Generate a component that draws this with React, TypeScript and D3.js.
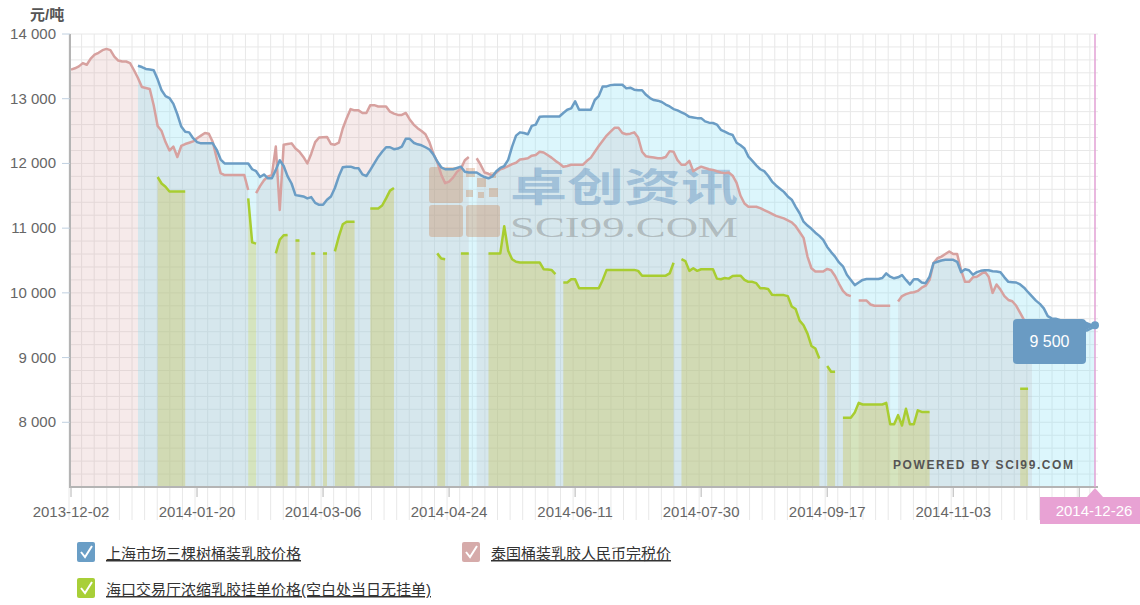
import React, { useEffect, useRef } from "react";
import * as d3 from "d3";

const _ = null;

// x axis labels, one every 32 trading days
const tickLabels = ["2013-12-02", "2014-01-20", "2014-03-06", "2014-04-24", "2014-06-11", "2014-07-30", "2014-09-17", "2014-11-03", "2014-12-22"];
const tickEvery = 32;
const lastDate = "2014-12-26";
const yTicks = [8000, 9000, 10000, 11000, 12000, 13000, 14000];

const seriesNames = ["上海市场三棵树桶装乳胶价格", "泰国桶装乳胶人民币完税价", "海口交易厅浓缩乳胶挂单价格(空白处当日无挂单)"];

// 上海市场三棵树桶装乳胶价格
const shanghai = [
  _, _, _, _, _, _, _, _, _, _, _, _, _, _, _, _, _, 13510, 13490, 13460,
  13450, 13440, 13300, 13130, 13040, 13010, 12920, 12760, 12570, 12490,
  12480, 12390, 12330, 12310, 12310, 12310, 12310, 12210, 12060, 12000,
  12000, 12000, 12000, 12000, 12000, 12000, 11910, 11880, 11790, 11830,
  11770, 11770, 11900, 12050, 11960, 11800, 11690, 11510, 11500, 11490,
  11460, 11480, 11390, 11360, 11360, 11440, 11490, 11620, 11800, 11940,
  11950, 11950, 11930, 11925, 11830, 11805, 11900, 12000, 12100, 12180,
  12250, 12250, 12220, 12230, 12260, 12380, 12380, 12320, 12295, 12280,
  12250, 12215, 12140, 12030, 11940, 11910, 11910, 11910, 11930, 11950,
  11870, 11860, 11860, 11860, 11820, 11790, 11770, 11800, 11880, 11930,
  11960, 12055, 12260, 12430, 12480, 12470, 12450, 12580, 12600, 12720,
  12725, 12725, 12725, 12725, 12725, 12780, 12830, 12850, 12960, 12830,
  12830, 12830, 12830, 12980, 13040, 13190, 13190, 13210, 13215, 13215,
  13215, 13160, 13170, 13140, 13130, 13130, 13060, 13010, 12980, 12970,
  12950, 12910, 12880, 12840, 12820, 12790, 12760, 12720, 12710, 12700,
  12700, 12650, 12630, 12625, 12600, 12520, 12490, 12460, 12440, 12320,
  12280, 12230, 12105, 12040, 11970, 11910, 11880, 11810, 11720, 11660,
  11610, 11560, 11490, 11440, 11330, 11230, 11100, 11040, 10990, 10930,
  10880, 10820, 10710, 10630, 10560, 10470, 10410, 10280, 10200, 10120,
  10160, 10200, 10215, 10215, 10215, 10215, 10230, 10300, 10250, 10225,
  10240, 10275, 10200, 10130, 10210, 10210, 10160, 10150, 10250, 10460,
  10480, 10500, 10510, 10510, 10510, 10480, 10320, 10365, 10350, 10280,
  10320, 10340, 10350, 10350, 10335, 10330, 10320, 10240, 10170, 10165,
  10160, 10130, 10080, 10010, 9945, 9880, 9830, 9760, 9640, 9605,
  9600, 9580, 9560, 9540, 9500, 9470, 9450, 9420, 9420, 9450, 9500,
];

// 泰国桶装乳胶人民币完税价
const thai = [
  13450, 13470, 13500, 13550, 13525, 13620, 13680, 13710, 13750, 13770,
  13750, 13650, 13590, 13575, 13575, 13550, 13440, 13320, 13180, 13165,
  13150, 12900, 12580, 12500, 12330, 12200, 12260, 12100, 12270, 12300,
  12320, 12340, 12390, 12430, 12470, 12460, 12330, 12080, 11850, 11820,
  11820, 11820, 11820, 11820, 11820, 11590, _, 11540, 11650, 11740,
  11800, 11820, 12260, 11280, 12290, 12300, 12310, 12230, 12180, 12100,
  12000, 12150, 12330, 12400, 12405, 12410, 12300, 12290, 12320, 12540,
  12700, 12840, 12820, 12820, 12780, 12780, 12900, 12900, 12880, 12880,
  12880, 12800, 12770, 12750, 12750, 12780, 12680, 12600, 12545, 12500,
  12450, 12330, 12150, 12020, 11830, 11695, 11720, 11780, 11870, 11920,
  12050, 12100, _, 12080, 11980, 11860, 11840, 11810, 11860, 11910,
  11930, 11960, 11990, 12010, 12060, 12070, 12080, 12120, 12130, 12180,
  12170, 12130, 12090, 12040, 12000, 11950, 11960, 11980, 11980, 11980,
  11980, 12040, 12090, 12180, 12270, 12350, 12430, 12490, 12550, 12550,
  12470, 12450, 12460, 12480, 12400, 12180, 12110, 12100, 12090, 12080,
  12080, 12100, 12190, 12180, 12050, 11980, 11980, 12040, 11880, 11920,
  11950, 11930, 11910, 11900, 11880, 11860, 11850, 11860, 11810, 11700,
  11500, 11380, 11330, 11330, 11330, 11310, 11280, 11250, 11220, 11190,
  11170, 11150, 11120, 11090, 11030, 10940, 10850, 10560, 10380, 10330,
  10330, 10330, 10370, 10350, 10260, 10140, 10030, 9970, 9950, _,
  9880, 9880, 9880, 9820, 9800, 9800, 9800, 9800, 9800, _,
  9865, 9950, 9980, 10000, 10010, 10030, 10080, 10110, 10200, 10460,
  10535, 10560, 10600, 10640, 10600, 10600, 10350, 10170, 10170, 10240,
  10250, 10290, 10330, 10250, 10000, 10130, 10050, 9950, 9890, 9870,
  9800, 9690, 9580, 9500, 9450, _, _, _, _, _,
  _, _, _, _, _, _, _, _, _, _, _,
];

// 海口交易厅浓缩乳胶挂单价格 (null = no order that day)
const haikou = [
  _, _, _, _, _, _, _, _, _, _,
  _, _, _, _, _, _, _, _, _, _,
  _, _, 11790, 11690, 11640, 11565, 11565, 11565, 11565, 11565,
  _, _, _, _, _, _, _, _, _, _,
  _, _, _, _, _, 11460, 10780, 10760, _, _,
  _, _, 10610, 10820, 10890, 10895, _, 10810, 10810, _,
  _, 10610, 10610, _, 10610, 10610, _, 10640, 10870, 11060,
  11100, 11100, 11100, _, _, _, 11305, 11305, 11305, 11350,
  11460, 11580, 11620, _, _, _, _, _, _, _,
  _, _, _, 10610, 10530, 10520, _, _, _, 10610,
  10610, 10610, _, _, _, _, 10610, 10610, 10610, 10610,
  11030, 10650, 10520, 10480, 10470, 10470, 10470, 10470, 10470, 10470,
  10365, 10360, 10355, 10290, _, 10160, 10160, 10210, 10210, 10070,
  10070, 10070, 10070, 10070, 10070, 10200, 10355, 10355, 10355, 10355,
  10355, 10355, 10355, 10355, 10340, 10265, 10265, 10265, 10265, 10265,
  10265, 10265, 10300, 10465, _, 10520, 10490, 10340, 10380, 10340,
  10365, 10365, 10365, 10365, 10220, 10210, 10230, 10220, 10260, 10265,
  10265, 10200, 10170, 10170, 10150, 10070, 10070, 10060, 9970, 9965,
  9965, 9965, 9950, 9790, 9750, 9570, 9500, 9370, 9180, 9140,
  8985, _, 8870, 8780, 8780, _, 8070, 8070, 8070, 8150,
  8300, 8275, 8275, 8275, 8275, 8275, 8275, 8300, 7970, 7970,
  8110, 7950, 8210, 7970, 7970, 8185, 8160, 8160, 8160, _,
  _, _, _, _, _, _, _, _, _, _,
  _, _, _, _, _, _, _, _, _, _,
  _, 8520, 8520, 8520, _, _, _, _, _, _,
  _, _, _, _, _, _, _, _, _, _, _,
];

const FONT = "'Liberation Sans', Arial, 'Noto Sans CJK SC', sans-serif";

export default function App() {
  const ref = useRef<SVGSVGElement>(null);

  useEffect(() => {
    const svg = d3.select(ref.current);
    svg.selectAll("*").remove();

    const left = 70, right = 1098, top = 34, bottom = 487;
    const n = shanghai.length;
    const x = d3.scaleLinear().domain([0, n - 1]).range([71, 1095]);
    const y = d3.scaleLinear().domain([7000, 14000]).range([bottom, top]);

    // grid
    const grid = svg.append("g").attr("stroke", "#e8e8e8").attr("stroke-width", 1);
    const minorStep = (x(tickEvery) - x(0)) / 10;
    for (let gx = x(0) - 2; gx <= right + 0.5; gx += minorStep) {
      grid.append("line").attr("x1", gx).attr("x2", gx).attr("y1", top).attr("y2", 520);
    }
    d3.range(7000, 14001, 200).forEach(v => {
      grid.append("line").attr("x1", left).attr("x2", right).attr("y1", y(v)).attr("y2", y(v));
    });

    const area = d3.area<number | null>()
      .defined(d => d != null)
      .x((d, i) => x(i))
      .y0(y(7000))
      .y1(d => y(d as number));
    const line = d3.line<number | null>()
      .defined(d => d != null)
      .x((d, i) => x(i))
      .y(d => y(d as number));

    svg.append("path").datum(thai).attr("d", area).attr("fill", "rgb(215,160,160)").attr("fill-opacity", 0.22);
    svg.append("path").datum(shanghai).attr("d", area).attr("fill", "rgb(140,225,245)").attr("fill-opacity", 0.3);
    svg.append("path").datum(haikou).attr("d", area).attr("fill", "rgb(200,190,60)").attr("fill-opacity", 0.32);

    // watermark
    const wm = svg.append("g");
    const logo = wm.append("g").attr("fill", "#c8733c").attr("fill-opacity", 0.3);
    logo.append("rect").attr("x", 429).attr("y", 167).attr("width", 34).attr("height", 36).attr("rx", 3);
    logo.append("rect").attr("x", 429).attr("y", 205).attr("width", 34).attr("height", 32).attr("rx", 3);
    logo.append("rect").attr("x", 466).attr("y", 205).attr("width", 34).attr("height", 32).attr("rx", 3);
    [[466, 168, 9], [477, 178, 9], [489, 188, 9], [466, 190, 7], [478, 192, 6], [490, 172, 6]].forEach(([sx, sy, s]) => {
      logo.append("rect").attr("x", sx).attr("y", sy).attr("width", s).attr("height", s);
    });
    wm.append("text").attr("x", 510).attr("y", 201).attr("font-family", "'Noto Sans CJK SC', sans-serif")
      .attr("font-weight", "bold").attr("font-size", 39).attr("textLength", 228).attr("lengthAdjust", "spacingAndGlyphs")
      .attr("fill", "#3d7ab5").attr("fill-opacity", 0.35).text("卓创资讯");
    wm.append("text").attr("x", 510).attr("y", 237).attr("font-family", "'Liberation Serif', 'DejaVu Serif', serif")
      .attr("font-size", 30).attr("textLength", 228).attr("lengthAdjust", "spacingAndGlyphs")
      .attr("fill", "#777").attr("fill-opacity", 0.4).text("SCI99.COM");

    svg.append("path").datum(thai).attr("d", line).attr("fill", "none").attr("stroke", "#d7a19f").attr("stroke-width", 2.5).attr("stroke-linejoin", "round");
    svg.append("path").datum(shanghai).attr("d", line).attr("fill", "none").attr("stroke", "#6b9dc5").attr("stroke-width", 2.5).attr("stroke-linejoin", "round");
    svg.append("path").datum(haikou).attr("d", line).attr("fill", "none").attr("stroke", "#a8cd30").attr("stroke-width", 2.5).attr("stroke-linejoin", "round");

    svg.append("text").attr("x", 1073).attr("y", 469).attr("text-anchor", "end").attr("font-family", FONT)
      .attr("font-weight", "bold").attr("font-size", 12).attr("textLength", 180).attr("fill", "#555")
      .text("POWERED BY SCI99.COM");

    // axes
    svg.append("line").attr("x1", left).attr("x2", left).attr("y1", top).attr("y2", bottom + 1).attr("stroke", "#b4b4b4").attr("stroke-width", 2);
    svg.append("line").attr("x1", left - 1).attr("x2", right).attr("y1", bottom).attr("y2", bottom).attr("stroke", "#b4b4b4").attr("stroke-width", 2);

    const ya = svg.append("g").attr("font-family", FONT).attr("font-size", 15).attr("fill", "#666");
    yTicks.forEach(v => {
      ya.append("line").attr("x1", left - 8).attr("x2", left).attr("y1", y(v)).attr("y2", y(v)).attr("stroke", "#c0d0e0");
      ya.append("text").attr("x", 56).attr("y", y(v) + 5).attr("text-anchor", "end").text(d3.format(",")(v).replace(",", " "));
    });
    svg.append("text").attr("x", 30).attr("y", 20).attr("font-family", FONT).attr("font-size", 15)
      .attr("font-weight", "bold").attr("fill", "#555").text("元/吨");

    const xa = svg.append("g").attr("font-family", FONT).attr("font-size", 15).attr("fill", "#666");
    tickLabels.forEach((lab, k) => {
      const tx = x(k * tickEvery);
      xa.append("line").attr("x1", tx).attr("x2", tx).attr("y1", bottom).attr("y2", bottom + 10).attr("stroke", "#b4b4b4");
      xa.append("text").attr("x", tx).attr("y", 517).attr("text-anchor", "middle").text(lab);
    });

    // crosshair on the last point
    const cx = x(n - 1);
    svg.append("line").attr("x1", cx).attr("x2", cx).attr("y1", top).attr("y2", bottom).attr("stroke", "#e2a0d4").attr("stroke-width", 1.5);
    svg.append("path").attr("d", `M1040,497 L${cx - 8},497 L${cx},488 L${cx + 8},497 L1140,497 L1140,524 L1040,524 Z`).attr("fill", "#e8a2d4");
    svg.append("text").attr("x", 1094).attr("y", 516).attr("text-anchor", "middle").attr("font-family", FONT)
      .attr("font-size", 15).attr("fill", "#fff").text(lastDate);

    // tooltip
    const last = shanghai[n - 1] as number;
    const cy = y(last);
    svg.append("path").attr("d", `M1080,319 L${cx},${cy} L1086,330 Z`).attr("fill", "#6a9bc3");
    svg.append("rect").attr("x", 1013).attr("y", 319).attr("width", 73).attr("height", 45).attr("rx", 4).attr("fill", "#6a9bc3");
    svg.append("text").attr("x", 1049.5).attr("y", 347).attr("text-anchor", "middle").attr("font-family", FONT)
      .attr("font-size", 16).attr("fill", "#fff").text(d3.format(",")(last).replace(",", " "));
    svg.append("circle").attr("cx", cx).attr("cy", cy).attr("r", 4).attr("fill", "#6b9dc5");

    // legend
    const legendColors = ["#6a9ec6", "#d6abaa", "#a8cf38"];
    const legendPos = [[77, 542], [462, 542], [77, 578]];
    seriesNames.forEach((name, k) => {
      const [lx, ly] = legendPos[k];
      svg.append("rect").attr("x", lx).attr("y", ly).attr("width", 18).attr("height", 20).attr("rx", 2).attr("fill", legendColors[k]);
      svg.append("path").attr("d", `M${lx + 4},${ly + 10} L${lx + 8},${ly + 15} L${lx + 15},${ly + 4}`)
        .attr("fill", "none").attr("stroke", "#fff").attr("stroke-width", 2);
      svg.append("text").attr("x", lx + 29).attr("y", ly + 17).attr("font-family", FONT).attr("font-size", 15)
        .attr("fill", "#333").attr("text-decoration", "underline").text(name);
    });
  }, []);

  return (
    <svg ref={ref} width={1140} height={605} style={{ position: "absolute", left: 0, top: 0, background: "#fff" }} />
  );
}
